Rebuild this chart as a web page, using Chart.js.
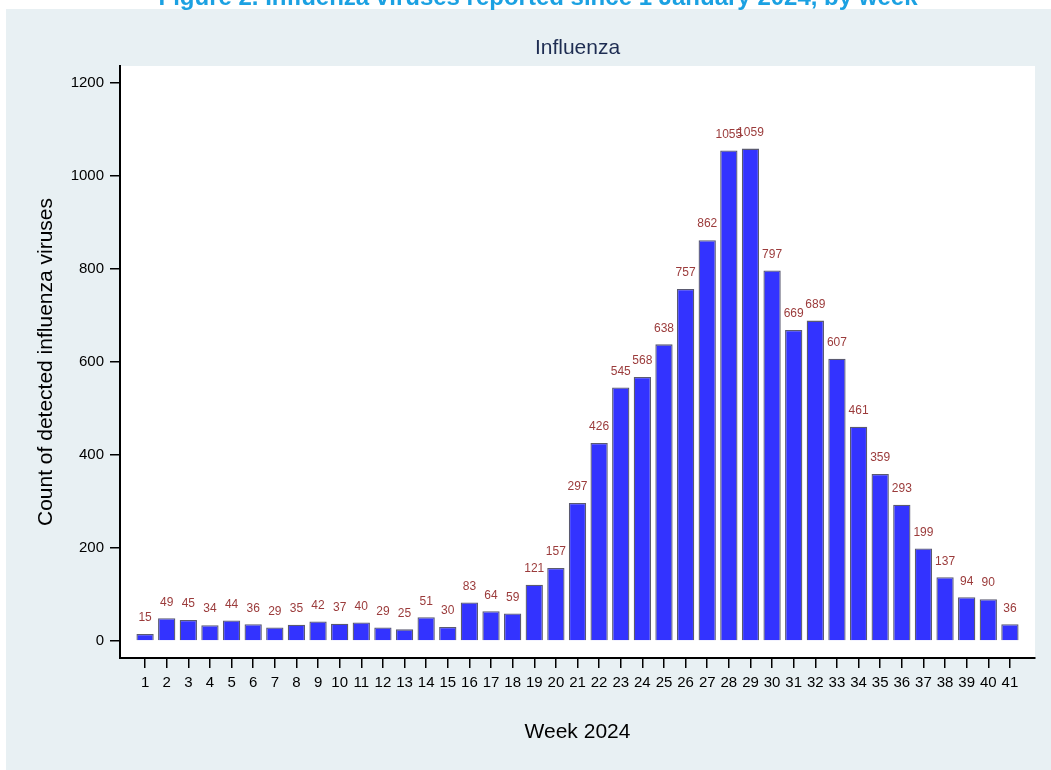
<!DOCTYPE html>
<html>
<head>
<meta charset="utf-8">
<script src="https://cdn.jsdelivr.net/npm/chart.js@4.4.1/dist/chart.umd.min.js"></script>
<style>
  html, body { margin: 0; padding: 0; background: #fff; }
  #wrap { width: 1051px; height: 770px; }
</style>
</head>
<body>
<div id="wrap"><canvas id="chart" width="1051" height="770"></canvas></div>
<script>
/* ---------- Données ---------- */
const weeks = [1, 2, 3, 4, 5, 6, 7, 8, 9, 10, 11, 12, 13, 14, 15, 16, 17, 18, 19, 20,
               21, 22, 23, 24, 25, 26, 27, 28, 29, 30, 31, 32, 33, 34, 35, 36, 37, 38, 39, 40, 41];
const counts = [15, 49, 45, 34, 44, 36, 29, 35, 42, 37, 40, 29, 25, 51, 30, 83, 64, 59, 121, 157,
                297, 426, 545, 568, 638, 757, 862, 1055, 1059, 797, 669, 689, 607, 461, 359, 293, 199, 137, 94, 90, 36];
const yTicks = [0, 200, 400, 600, 800, 1000, 1200];
const figureTitle = "Figure 2. Influenza viruses reported since 1 January 2024, by week";
const panelTitle = "Influenza";

const PANEL_BG = "#e8f0f3";
const FONT = "Arial, 'Liberation Sans', sans-serif";

/* ---------- Fond, titres ---------- */
const backgroundPlugin = {
    id: "background",
    beforeDraw(chart) {
        const { ctx, chartArea } = chart;
        ctx.save();
        ctx.fillStyle = "#ffffff";
        ctx.fillRect(0, 0, chart.width, chart.height);
        ctx.fillStyle = PANEL_BG;
        ctx.fillRect(6, 9, chart.width - 6, chart.height - 9);
        ctx.fillStyle = "#ffffff";
        ctx.fillRect(chartArea.left, chartArea.top, chartArea.right - chartArea.left, chartArea.bottom - chartArea.top);

        ctx.textAlign = "center";
        ctx.textBaseline = "alphabetic";
        ctx.fillStyle = "#1ba1e2";
        ctx.font = "bold 24px " + FONT;
        ctx.fillText(figureTitle, 538, 5);

        ctx.textBaseline = "middle";
        ctx.fillStyle = "#1e2d52";
        ctx.font = "21px " + FONT;
        ctx.fillText(panelTitle, (chartArea.left + chartArea.right) / 2, 48);
        ctx.restore();
    }
};

/* ---------- Étiquettes de valeurs ---------- */
const valueLabels = {
    id: "valueLabels",
    afterDatasetsDraw(chart) {
        const { ctx } = chart;
        const meta = chart.getDatasetMeta(0);
        ctx.save();
        ctx.fillStyle = "#9b3b3b";
        ctx.font = "12px " + FONT;
        ctx.textAlign = "center";
        ctx.textBaseline = "middle";
        meta.data.forEach((bar, i) => {
            ctx.fillText(String(counts[i]), bar.x, bar.y - 16);
        });
        ctx.restore();
    }
};

new Chart(document.getElementById("chart"), {
    type: "bar",
    data: {
        datasets: [{
            data: weeks.map((w, i) => ({ x: w, y: counts[i] })),
            backgroundColor: "#3333ff",
            borderColor: "#5a5a70",
            borderWidth: 1.3,
            categoryPercentage: 1,
            barPercentage: 0.8
        }]
    },
    options: {
        responsive: false,
        animation: false,
        devicePixelRatio: 1,
        layout: { padding: { top: 66, right: 16, left: 0, bottom: 0 } },
        plugins: {
            legend: { display: false },
            tooltip: { enabled: false }
        },
        scales: {
            x: {
                type: "linear",
                min: -0.16,
                max: 42.16,
                offset: false,
                afterBuildTicks: s => { s.ticks = weeks.map(v => ({ value: v })); },
                afterFit: s => { s.height = 112; },
                grid: { offset: false, drawOnChartArea: false, tickLength: 10, color: "#000", lineWidth: 1.5 },
                border: { color: "#000", width: 2 },
                ticks: {
                    color: "#000", font: { size: 15, family: FONT }, padding: 6,
                    autoSkip: false, maxRotation: 0, callback: v => String(v)
                },
                title: {
                    display: true,
                    text: "Week 2024",
                    color: "#000",
                    font: { size: 21, family: FONT },
                    padding: { top: 0, bottom: 25 }
                }
            },
            y: {
                min: -36.6,
                max: 1236.6,
                afterBuildTicks: s => { s.ticks = yTicks.map(v => ({ value: v })); },
                afterFit: s => { s.width = 120; },
                grid: { drawOnChartArea: false, tickLength: 10, color: "#000", lineWidth: 1.5 },
                border: { color: "#000", width: 2 },
                ticks: { color: "#000", font: { size: 15, family: FONT }, padding: 6, callback: v => String(v) },
                title: {
                    display: true,
                    text: "Count of detected influenza viruses",
                    color: "#000",
                    font: { size: 21, family: FONT },
                    padding: { top: 34, bottom: 0 }
                }
            }
        }
    },
    plugins: [backgroundPlugin, valueLabels]
});
</script>
</body>
</html>
